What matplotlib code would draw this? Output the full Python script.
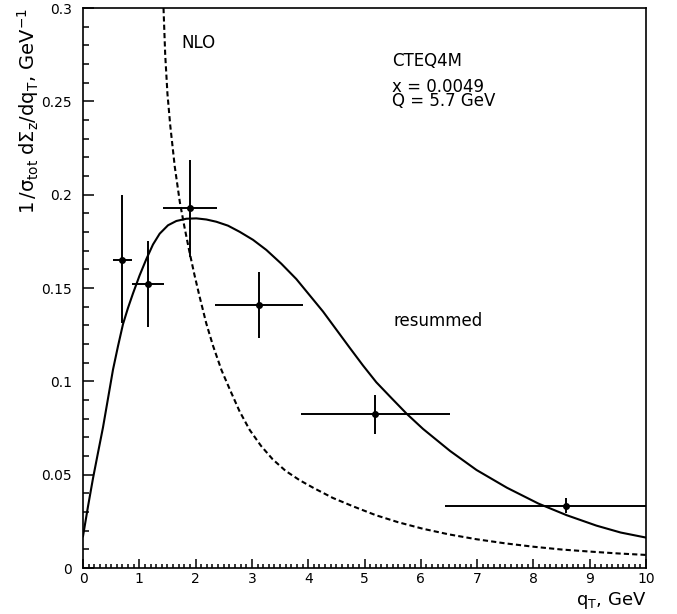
import numpy as np
import matplotlib
matplotlib.use("Agg")
import matplotlib.pyplot as plt
from matplotlib.ticker import MultipleLocator

plt.rcParams['font.family'] = ['DejaVu Sans']
plt.rcParams['mathtext.fontset'] = 'custom'
plt.rcParams['mathtext.rm'] = 'DejaVu Sans'
plt.rcParams['mathtext.it'] = 'DejaVu Sans'
plt.rcParams['mathtext.bf'] = 'DejaVu Sans:bold'

# resummed curve (solid)
res_x = [0, 0.089, 0.178, 0.266, 0.355, 0.444, 0.533, 0.622, 0.71, 0.799,
         0.888, 1.006, 1.125, 1.243, 1.362, 1.51, 1.658, 1.835, 2.013, 2.191,
         2.368, 2.575, 2.783, 3.02, 3.256, 3.523, 3.789, 4.026, 4.263, 4.5,
         4.737, 4.973, 5.21, 5.48, 5.75, 6.04, 6.52, 6.99, 7.53, 8.09, 8.59,
         9.12, 9.55, 10]
res_y = [0.017, 0.0330, 0.0481, 0.0617, 0.0753, 0.0908, 0.1063, 0.1189,
         0.1306, 0.1393, 0.1471, 0.1568, 0.1655, 0.1733, 0.1791, 0.1836,
         0.1859, 0.1871, 0.1873, 0.1867, 0.1855, 0.1834, 0.1801, 0.1758,
         0.1704, 0.1630, 0.1548, 0.1461, 0.1374, 0.1277, 0.1180, 0.1085,
         0.0995, 0.0910, 0.0826, 0.0745, 0.0627, 0.0525, 0.0430, 0.0345,
         0.0283, 0.0227, 0.0190, 0.0163]

# NLO curve (dashed)
nlo_x = [1.43, 1.46, 1.50, 1.55, 1.63, 1.72, 1.80, 1.89, 1.98, 2.07, 2.19,
         2.31, 2.46, 2.61, 2.78, 2.96, 3.16, 3.37, 3.6, 3.85, 4.1, 4.44, 4.8,
         5.2, 5.6, 6.04, 6.5, 6.99, 7.5, 8.0, 8.5, 9.0, 9.5, 10]
nlo_y = [0.300, 0.275, 0.254, 0.237, 0.215, 0.196, 0.183, 0.1695, 0.157,
         0.1455, 0.131, 0.119, 0.106, 0.0955, 0.0840, 0.0740, 0.0655, 0.0582,
         0.0520, 0.0470, 0.0428, 0.0375, 0.0330, 0.0283, 0.0245, 0.0210,
         0.0180, 0.0154, 0.0132, 0.0114, 0.0099, 0.0088, 0.0078, 0.0070]

# data points
pt_x = [0.70, 1.15, 1.90, 3.13, 5.19, 8.58]
pt_y = [0.165, 0.152, 0.193, 0.141, 0.0823, 0.0334]
pt_xerr = [0.17, 0.28, 0.48, 0.78, 1.32, 2.15]
pt_yerr_lo = [0.034, 0.023, 0.0265, 0.018, 0.0105, 0.0041]
pt_yerr_hi = [0.035, 0.023, 0.0255, 0.0175, 0.0104, 0.0039]

xticks = list(range(0, 11))
yticks = [0, 0.05, 0.1, 0.15, 0.2, 0.25, 0.3]
ytick_labels = ['0', '0.05', '0.1', '0.15', '0.2', '0.25', '0.3']

fig = plt.figure(figsize=(6.77, 6.14), dpi=100)
ax = fig.add_axes([83/677, 1-568/614, 563/677, 560/614])

ax.plot(res_x, res_y, color='black', lw=1.5)
ax.plot(nlo_x, nlo_y, color='black', lw=1.5, linestyle=(0, (2.5, 1.5)))
ax.errorbar(pt_x, pt_y, xerr=pt_xerr, yerr=[pt_yerr_lo, pt_yerr_hi],
            fmt='o', color='black', ms=4, elinewidth=1.4, capsize=0)

ax.set_xlim(0, 10)
ax.set_ylim(0, 0.3)
ax.set_xticks(xticks)
ax.set_xticklabels([str(t) for t in xticks])
ax.set_yticks(yticks)
ax.set_yticklabels(ytick_labels)
ax.xaxis.set_minor_locator(MultipleLocator(0.1))
ax.yaxis.set_minor_locator(MultipleLocator(0.01))
ax.tick_params(which='both', direction='in', top=False, right=False,
               labelsize=10, width=1.1)
ax.tick_params(axis='x', which='major', length=6.5, pad=3)
ax.tick_params(axis='x', which='minor', length=3)
ax.tick_params(axis='y', which='major', length=8, pad=8)
ax.tick_params(axis='y', which='minor', length=4.3)
for s in ax.spines.values():
    s.set_linewidth(1.2)

ax.text(1.75, 0.2787, 'NLO', fontsize=12, va='baseline')
ax.text(5.49, 0.2691, 'CTEQ4M', fontsize=12, va='baseline')
ax.text(5.49, 0.2475, 'x = 0.0049\nQ = 5.7 GeV', fontsize=12, va='baseline',
        linespacing=0.7)
ax.text(5.51, 0.1296, 'resummed', fontsize=12, va='baseline')

ax.text(1.0, -37/560, r'$q_T$, GeV', fontsize=13, ha='right', va='baseline',
        transform=ax.transAxes)
ax.text(-55/563, 1.0, r'$1\,/\sigma_{tot}\;d\Sigma_z/dq_T$, GeV$^{-1}$',
        fontsize=14, rotation=90, ha='center', va='top', transform=ax.transAxes)

fig.savefig('out.png', dpi=100)
